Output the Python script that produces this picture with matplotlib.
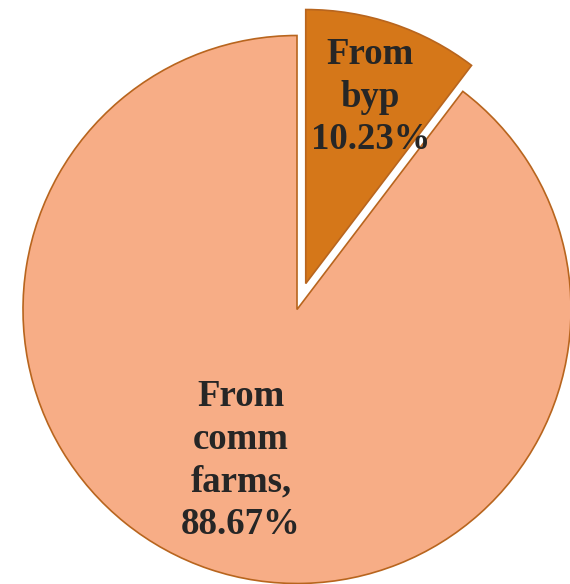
import matplotlib
matplotlib.use("Agg")
import matplotlib.pyplot as plt

labels = ["From\nbyp\n10.23%", "From\ncomm\nfarms,\n88.67%"]
values = [10.23, 88.67]
colors = ["#D57719", "#F7AD86"]
explode = [0.1, 0.0]

W, H = 570, 584
cx, cy, r = 297, 309.5, 274

fig = plt.figure(figsize=(W / 100, H / 100), dpi=100)
ax = fig.add_axes([0, 0, 1, 1])
ax.pie(values, colors=colors, explode=explode, startangle=90, counterclock=False,
       radius=1.0, center=(0, 0),
       wedgeprops=dict(edgecolor="#B8651E", linewidth=1.2))
ax.set_xlim(-cx / r, (W - cx) / r)
ax.set_ylim(-(H - cy) / r, cy / r)
ax.set_aspect("equal")
ax.axis("off")

txt = dict(ha="center", va="center", multialignment="center", color="#262626",
           fontsize=26.5, fontweight="bold", family=["Liberation Serif", "DejaVu Serif"],
           linespacing=1.28)
ax.text(0.268, 0.775, labels[0], **txt)
ax.text(-0.204, -0.552, labels[1], **txt)

fig.savefig("out.png", dpi=100)
